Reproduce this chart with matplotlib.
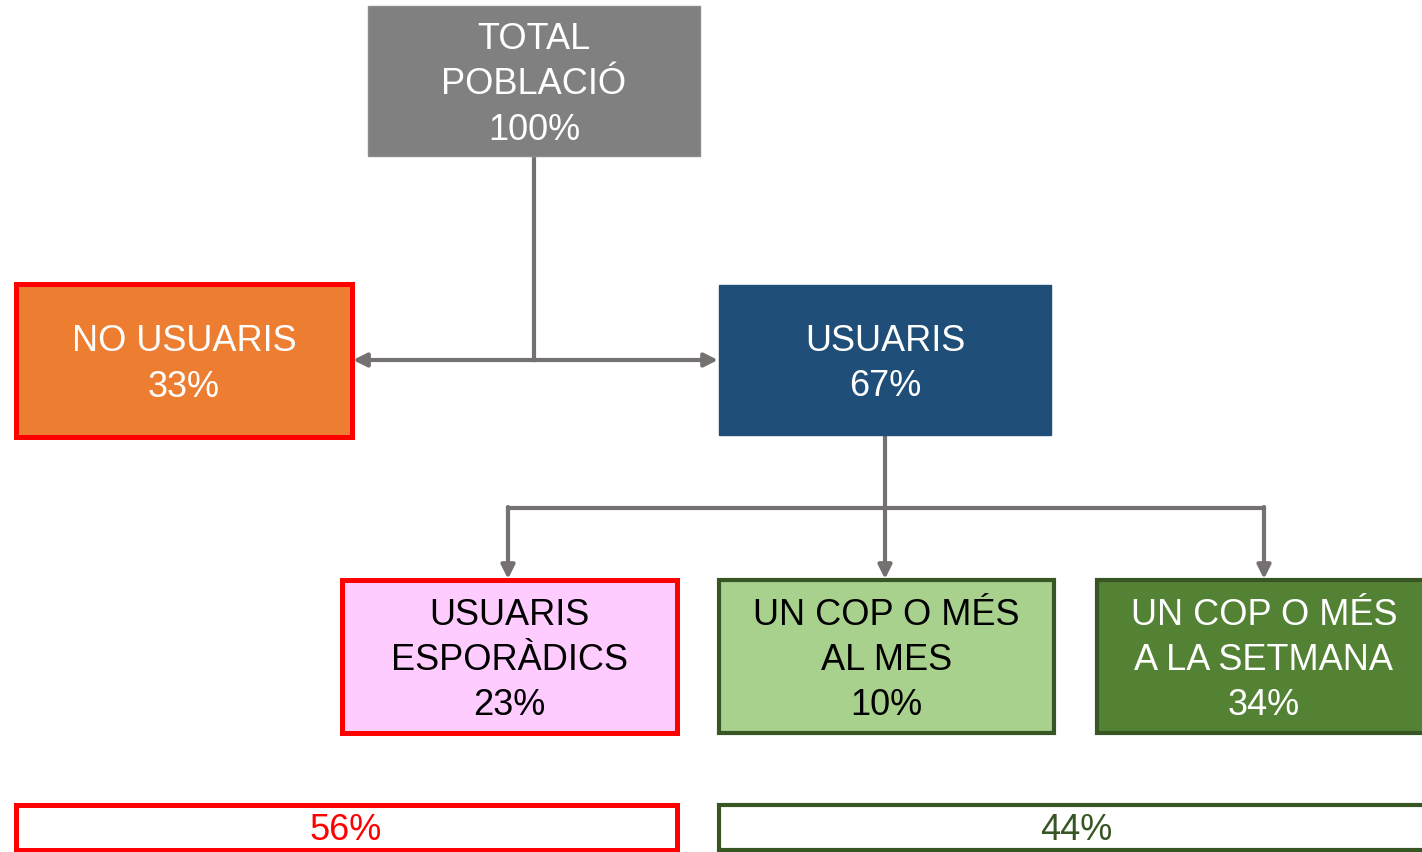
import matplotlib.pyplot as plt
from matplotlib.patches import Rectangle

plt.rcParams["font.family"] = ["Liberation Sans", "DejaVu Sans"]

# node labels and shares
labels = ["TOTAL\nPOBLACIÓ", "NO USUARIS", "USUARIS", "USUARIS\nESPORÀDICS",
          "UN COP O MÉS\nAL MES", "UN COP O MÉS\nA LA SETMANA"]
shares = [100, 33, 67, 23, 10, 34]
group_labels = ["56%", "44%"]

# box geometry (x0, y0, x1, y1) in pixels, styles
boxes = [(368, 6, 700, 156), (16, 284, 352, 437), (719, 285, 1051, 435),
         (342, 580, 677, 733), (719, 580, 1054, 733), (1097, 580, 1440, 733)]
fills = ["#808080", "#ED7D31", "#1F4E79", "#FFCCFF", "#A9D18E", "#548235"]
edges = ["#8c8c8c", "#FF0000", "#1F4E79", "#FF0000", "#375623", "#375623"]
edge_w = [1, 3.6, 1, 3.6, 3, 3]
text_col = ["white", "white", "white", "black", "black", "white"]

group_boxes = [(16, 805, 677, 850), (719, 805, 1440, 850)]
group_cols = ["#FF0000", "#375623"]

fig = plt.figure(figsize=(14.22, 8.52), dpi=100)
ax = fig.add_axes([0, 0, 1, 1])
ax.set_xlim(0, 1422)
ax.set_ylim(852, 0)
ax.axis("off")

line_c = "#767171"
lw = 3

for (x0, y0, x1, y1), fc, ec, w, tc, lab, s in zip(boxes, fills, edges, edge_w,
                                                    text_col, labels, shares):
    ax.add_patch(Rectangle((x0, y0), x1 - x0, y1 - y0, facecolor=fc,
                           edgecolor=ec, linewidth=w, zorder=3))
    cx = 1264 if x1 > 1422 else (x0 + x1) / 2
    ax.text(cx, (y0 + y1) / 2 + 4, f"{lab}\n{s}%", ha="center", va="center",
            color=tc, fontsize=26, linespacing=1.38, zorder=4)

for (x0, y0, x1, y1), c, lab in zip(group_boxes, group_cols, group_labels):
    ax.add_patch(Rectangle((x0, y0), x1 - x0, y1 - y0, facecolor="white",
                           edgecolor=c, linewidth=3.6 if c == "#FF0000" else 3,
                           zorder=3))
    cx = 346 if x0 < 100 else 1076
    ax.text(cx, (y0 + y1) / 2 + 3, lab, ha="center", va="center", color=c,
            fontsize=26, zorder=4)

# connectors
ax.plot([534, 534], [156, 360], color=line_c, lw=lw, zorder=2)
arrow = dict(arrowstyle="-|>,head_length=0.8,head_width=0.4", color=line_c,
             lw=lw, shrinkA=0, shrinkB=0)
ax.annotate("", xy=(353, 360), xytext=(534, 360), arrowprops=arrow)
ax.annotate("", xy=(718, 360), xytext=(534, 360), arrowprops=arrow)

ax.plot([885, 885], [435, 508], color=line_c, lw=lw, zorder=2)
ax.plot([508, 1264], [508, 508], color=line_c, lw=lw, zorder=2)
for x in [508, 885, 1264]:
    ax.annotate("", xy=(x, 579), xytext=(x, 507), arrowprops=arrow)

fig.savefig("out.png", dpi=100)
